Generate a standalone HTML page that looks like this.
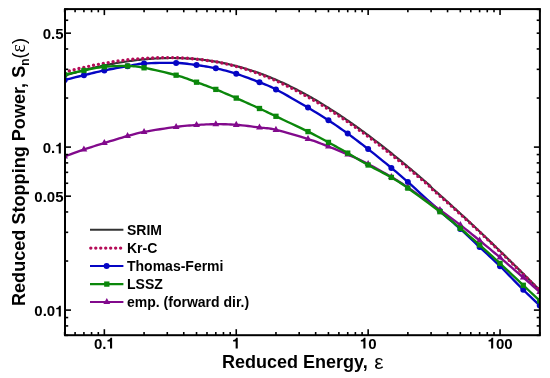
<!DOCTYPE html>
<html><head><meta charset="utf-8"><style>
html,body{margin:0;padding:0;background:#fff;}
svg{display:block;will-change:transform;}
text{font-family:"Liberation Sans",sans-serif;}
</style></head><body>
<svg width="550" height="378" viewBox="0 0 550 378">
<rect width="550" height="378" fill="#fff"/>
<defs><clipPath id="c"><rect x="65.0" y="9.1" width="474.9" height="326.09999999999997"/></clipPath></defs><g clip-path="url(#c)"><path d="M64.64,75.60 L66.23,75.12 L67.82,74.65 L69.41,74.19 L71.00,73.73 L72.59,73.27 L74.18,72.82 L75.77,72.38 L77.36,71.94 L78.95,71.51 L80.53,71.08 L82.12,70.66 L83.71,70.25 L85.30,69.84 L86.89,69.44 L88.48,69.04 L90.07,68.66 L91.66,68.27 L93.25,67.89 L94.84,67.52 L96.42,67.16 L98.01,66.80 L99.60,66.45 L101.19,66.10 L102.78,65.77 L104.37,65.43 L105.96,65.11 L107.55,64.79 L109.14,64.47 L110.73,64.17 L112.31,63.87 L113.90,63.58 L115.49,63.29 L117.08,63.01 L118.67,62.74 L120.26,62.48 L121.85,62.22 L123.44,61.97 L125.03,61.72 L126.62,61.49 L128.20,61.26 L129.79,61.03 L131.38,60.82 L132.97,60.61 L134.56,60.41 L136.15,60.22 L137.74,60.03 L139.33,59.86 L140.92,59.69 L142.51,59.53 L144.09,59.37 L145.68,59.23 L147.27,59.09 L148.86,58.96 L150.45,58.84 L152.04,58.72 L153.63,58.62 L155.22,58.52 L156.81,58.43 L158.40,58.35 L159.98,58.28 L161.57,58.21 L163.16,58.16 L164.75,58.11 L166.34,58.07 L167.93,58.04 L169.52,58.02 L171.11,58.01 L172.70,58.01 L174.29,58.02 L175.87,58.03 L177.46,58.06 L179.05,58.09 L180.64,58.14 L182.23,58.19 L183.82,58.25 L185.41,58.33 L187.00,58.41 L188.59,58.50 L190.18,58.60 L191.76,58.71 L193.35,58.84 L194.94,58.97 L196.53,59.11 L198.12,59.26 L199.71,59.42 L201.30,59.59 L202.89,59.77 L204.48,59.97 L206.07,60.17 L207.65,60.38 L209.24,60.61 L210.83,60.84 L212.42,61.08 L214.01,61.34 L215.60,61.60 L217.19,61.88 L218.78,62.17 L220.37,62.46 L221.96,62.77 L223.54,63.09 L225.13,63.42 L226.72,63.76 L228.31,64.12 L229.90,64.48 L231.49,64.85 L233.08,65.24 L234.67,65.63 L236.26,66.04 L237.85,66.46 L239.43,66.89 L241.02,67.33 L242.61,67.78 L244.20,68.24 L245.79,68.71 L247.38,69.20 L248.97,69.69 L250.56,70.20 L252.15,70.71 L253.74,71.24 L255.32,71.78 L256.91,72.33 L258.50,72.89 L260.09,73.47 L261.68,74.05 L263.27,74.64 L264.86,75.25 L266.45,75.86 L268.04,76.49 L269.63,77.13 L271.21,77.77 L272.80,78.43 L274.39,79.10 L275.98,79.78 L277.57,80.47 L279.16,81.17 L280.75,81.89 L282.34,82.61 L283.93,83.34 L285.52,84.08 L287.10,84.83 L288.69,85.60 L290.28,86.37 L291.87,87.15 L293.46,87.95 L295.05,88.75 L296.64,89.56 L298.23,90.39 L299.82,91.22 L301.41,92.06 L302.99,92.92 L304.58,93.78 L306.17,94.65 L307.76,95.53 L309.35,96.42 L310.94,97.32 L312.53,98.23 L314.12,99.15 L315.71,100.07 L317.30,101.01 L318.88,101.95 L320.47,102.91 L322.06,103.87 L323.65,104.84 L325.24,105.82 L326.83,106.81 L328.42,107.80 L330.01,108.81 L331.60,109.82 L333.19,110.84 L334.77,111.87 L336.36,112.91 L337.95,113.96 L339.54,115.01 L341.13,116.07 L342.72,117.14 L344.31,118.22 L345.90,119.30 L347.49,120.39 L349.08,121.49 L350.66,122.60 L352.25,123.71 L353.84,124.83 L355.43,125.96 L357.02,127.10 L358.61,128.24 L360.20,129.39 L361.79,130.55 L363.38,131.71 L364.97,132.88 L366.55,134.05 L368.14,135.24 L369.73,136.43 L371.32,137.62 L372.91,138.82 L374.50,140.03 L376.09,141.25 L377.68,142.47 L379.27,143.69 L380.86,144.93 L382.44,146.16 L384.03,147.41 L385.62,148.66 L387.21,149.91 L388.80,151.18 L390.39,152.44 L391.98,153.72 L393.57,154.99 L395.16,156.28 L396.75,157.57 L398.33,158.86 L399.92,160.16 L401.51,161.46 L403.10,162.77 L404.69,164.09 L406.28,165.41 L407.87,166.73 L409.46,168.06 L411.05,169.40 L412.64,170.74 L414.22,172.08 L415.81,173.43 L417.40,174.78 L418.99,176.14 L420.58,177.50 L422.17,178.87 L423.76,180.24 L425.35,181.61 L426.94,182.99 L428.53,184.38 L430.11,185.76 L431.70,187.83 L433.29,189.22 L434.88,190.61 L436.47,192.01 L438.06,193.41 L439.65,194.82 L441.24,196.24 L442.83,197.65 L444.42,199.07 L446.00,200.50 L447.59,201.93 L449.18,203.36 L450.77,204.80 L452.36,206.24 L453.95,207.69 L455.54,209.13 L457.13,210.59 L458.72,212.04 L460.31,213.50 L461.89,214.97 L463.48,216.43 L465.07,217.90 L466.66,219.38 L468.25,220.85 L469.84,222.34 L471.43,223.82 L473.02,225.31 L474.61,226.80 L476.20,228.29 L477.78,229.79 L479.37,231.29 L480.96,232.79 L482.55,234.29 L484.14,235.80 L485.73,237.31 L487.32,238.83 L488.91,240.34 L490.50,241.86 L492.09,243.39 L493.67,244.91 L495.26,246.44 L496.85,247.97 L498.44,249.50 L500.03,251.04 L501.62,252.58 L503.21,254.12 L504.80,255.66 L506.39,257.21 L507.98,258.76 L509.56,260.31 L511.15,261.86 L512.74,263.42 L514.33,264.98 L515.92,266.54 L517.51,268.10 L519.10,269.66 L520.69,271.23 L522.28,272.80 L523.87,274.37 L525.45,275.95 L527.04,277.52 L528.63,279.10 L530.22,280.68 L531.81,282.26 L533.40,283.84 L534.99,285.43 L536.58,287.02 L538.17,288.61 L539.76,290.20" stroke="#333333" stroke-width="2.2" fill="none"/><path d="M64.64,72.21 L66.23,71.78 L67.82,71.35 L69.41,70.93 L71.00,70.52 L72.59,70.11 L74.18,69.71 L75.77,69.32 L77.36,68.93 L78.95,68.54 L80.53,68.17 L82.12,67.79 L83.71,67.43 L85.30,67.07 L86.89,66.71 L88.48,66.37 L90.07,66.02 L91.66,65.69 L93.25,65.36 L94.84,65.04 L96.42,64.72 L98.01,64.41 L99.60,64.11 L101.19,63.81 L102.78,63.52 L104.37,63.23 L105.96,62.96 L107.55,62.68 L109.14,62.42 L110.73,62.16 L112.31,61.91 L113.90,61.67 L115.49,61.43 L117.08,61.20 L118.67,60.97 L120.26,60.76 L121.85,60.55 L123.44,60.35 L125.03,60.15 L126.62,59.96 L128.20,59.78 L129.79,59.61 L131.38,59.44 L132.97,59.28 L134.56,59.13 L136.15,58.98 L137.74,58.85 L139.33,58.72 L140.92,58.60 L142.51,58.48 L144.09,58.38 L145.68,58.28 L147.27,58.19 L148.86,58.11 L150.45,58.03 L152.04,57.97 L153.63,57.91 L155.22,57.86 L156.81,57.82 L158.40,57.77 L159.98,57.72 L161.57,57.68 L163.16,57.65 L164.75,57.63 L166.34,57.61 L167.93,57.61 L169.52,57.61 L171.11,57.63 L172.70,57.65 L174.29,57.68 L175.87,57.72 L177.46,57.77 L179.05,57.83 L180.64,57.90 L182.23,57.97 L183.82,58.06 L185.41,58.16 L187.00,58.26 L188.59,58.38 L190.18,58.50 L191.76,58.64 L193.35,58.79 L194.94,58.94 L196.53,59.11 L198.12,59.27 L199.71,59.45 L201.30,59.64 L202.89,59.84 L204.48,60.05 L206.07,60.26 L207.65,60.49 L209.24,60.73 L210.83,60.98 L212.42,61.24 L214.01,61.51 L215.60,61.80 L217.19,62.09 L218.78,62.39 L220.37,62.70 L221.96,63.03 L223.54,63.36 L225.13,63.71 L226.72,64.07 L228.31,64.44 L229.90,64.81 L231.49,65.20 L233.08,65.60 L234.67,66.02 L236.26,66.44 L237.85,66.88 L239.43,67.33 L241.02,67.80 L242.61,68.27 L244.20,68.76 L245.79,69.26 L247.38,69.76 L248.97,70.28 L250.56,70.81 L252.15,71.36 L253.74,71.91 L255.32,72.47 L256.91,73.05 L258.50,73.63 L260.09,74.23 L261.68,74.83 L263.27,75.45 L264.86,76.08 L266.45,76.72 L268.04,77.37 L269.63,78.03 L271.21,78.70 L272.80,79.39 L274.39,80.08 L275.98,80.78 L277.57,81.50 L279.16,82.22 L280.75,82.96 L282.34,83.71 L283.93,84.46 L285.52,85.23 L287.10,86.01 L288.69,86.79 L290.28,87.59 L291.87,88.40 L293.46,89.22 L295.05,90.04 L296.64,90.88 L298.23,91.73 L299.82,92.58 L301.41,93.45 L302.99,94.32 L304.58,95.18 L306.17,96.05 L307.76,96.93 L309.35,97.82 L310.94,98.72 L312.53,99.63 L314.12,100.55 L315.71,101.47 L317.30,102.41 L318.88,103.35 L320.47,104.31 L322.06,105.27 L323.65,106.24 L325.24,107.22 L326.83,108.21 L328.42,109.20 L330.01,110.21 L331.60,111.22 L333.19,112.24 L334.77,113.27 L336.36,114.31 L337.95,115.36 L339.54,116.41 L341.13,117.47 L342.72,118.54 L344.31,119.62 L345.90,120.70 L347.49,121.79 L349.08,122.89 L350.66,124.00 L352.25,125.11 L353.84,126.23 L355.43,127.36 L357.02,128.50 L358.61,129.64 L360.20,130.79 L361.79,131.95 L363.38,133.11 L364.97,134.28 L366.55,135.45 L368.14,136.64 L369.73,137.83 L371.32,139.02 L372.91,140.22 L374.50,141.43 L376.09,142.65 L377.68,143.87 L379.27,145.09 L380.86,146.33 L382.44,147.56 L384.03,148.81 L385.62,150.06 L387.21,151.31 L388.80,152.58 L390.39,153.84 L391.98,155.12 L393.57,156.39 L395.16,157.68 L396.75,158.97 L398.33,160.26 L399.92,161.56 L401.51,162.86 L403.10,164.15 L404.69,165.44 L406.28,166.74 L407.87,168.05 L409.46,169.36 L411.05,170.67 L412.64,171.99 L414.22,173.31 L415.81,174.64 L417.40,175.97 L418.99,177.31 L420.58,178.65 L422.17,180.00 L423.76,181.35 L425.35,182.71 L426.94,184.07 L428.53,185.43 L430.11,186.80 L431.70,188.84 L433.29,190.21 L434.88,191.58 L436.47,192.96 L438.06,194.35 L439.65,195.74 L441.24,197.13 L442.83,198.53 L444.42,199.94 L446.00,201.35 L447.59,202.76 L449.18,204.18 L450.77,205.60 L452.36,207.02 L453.95,208.45 L455.54,209.88 L457.13,211.32 L458.72,212.76 L460.31,214.21 L461.89,215.65 L463.48,217.10 L465.07,218.56 L466.66,220.02 L468.25,221.48 L469.84,222.94 L471.43,224.41 L473.02,225.88 L474.61,227.35 L476.20,228.83 L477.78,230.31 L479.37,231.79 L480.96,233.29 L482.55,234.80 L484.14,236.31 L485.73,237.83 L487.32,239.35 L488.91,240.87 L490.50,242.39 L492.09,243.92 L493.67,245.45 L495.26,246.98 L496.85,248.51 L498.44,250.05 L500.03,251.59 L501.62,253.13 L503.21,254.68 L504.80,256.23 L506.39,257.78 L507.98,259.33 L509.56,260.88 L511.15,262.44 L512.74,264.00 L514.33,265.56 L515.92,267.13 L517.51,268.69 L519.10,270.26 L520.69,271.83 L522.28,273.40 L523.87,274.97 L525.45,276.55 L527.04,278.12 L528.63,279.70 L530.22,281.28 L531.81,282.86 L533.40,284.44 L534.99,286.03 L536.58,287.62 L538.17,289.21 L539.76,290.80" stroke="#b50c58" stroke-width="3.4" fill="none" stroke-dasharray="0 4.972" stroke-dashoffset="0.13" stroke-linecap="round"/><path d="M64.64,80.00 L66.12,79.63 L68.08,79.14 L70.41,78.55 L73.00,77.90 L75.76,77.21 L78.57,76.51 L81.32,75.83 L83.92,75.20 L86.40,74.60 L88.88,73.99 L91.37,73.37 L93.89,72.76 L96.43,72.16 L99.02,71.56 L101.65,70.97 L104.35,70.40 L107.17,69.84 L110.12,69.27 L113.15,68.72 L116.21,68.17 L119.24,67.64 L122.18,67.13 L124.98,66.65 L127.58,66.20 L129.85,65.78 L131.81,65.37 L133.57,64.99 L135.26,64.62 L137.03,64.29 L139.00,63.99 L141.30,63.73 L144.06,63.50 L147.40,63.31 L151.25,63.14 L155.45,63.00 L159.84,62.89 L164.26,62.83 L168.55,62.80 L172.56,62.83 L176.11,62.90 L179.23,63.03 L182.06,63.23 L184.68,63.48 L187.13,63.76 L189.48,64.08 L191.79,64.41 L194.13,64.76 L196.54,65.10 L199.00,65.44 L201.42,65.78 L203.81,66.13 L206.18,66.49 L208.56,66.89 L210.95,67.31 L213.36,67.78 L215.82,68.30 L218.30,68.86 L220.78,69.44 L223.27,70.06 L225.79,70.72 L228.33,71.42 L230.92,72.16 L233.55,72.95 L236.25,73.80 L239.07,74.73 L242.02,75.75 L245.05,76.83 L248.11,77.95 L251.14,79.08 L254.08,80.20 L256.88,81.28 L259.48,82.30 L261.75,83.18 L263.71,83.91 L265.47,84.58 L267.16,85.24 L268.93,85.99 L270.90,86.88 L273.20,87.99 L275.96,89.40 L279.30,91.18 L283.15,93.30 L287.35,95.65 L291.74,98.15 L296.16,100.69 L300.45,103.18 L304.46,105.51 L308.01,107.60 L311.13,109.45 L313.96,111.15 L316.58,112.74 L319.03,114.26 L321.38,115.74 L323.69,117.21 L326.03,118.72 L328.44,120.30 L330.90,121.92 L333.32,123.53 L335.71,125.15 L338.08,126.78 L340.46,128.43 L342.85,130.11 L345.26,131.83 L347.72,133.60 L350.20,135.41 L352.68,137.24 L355.17,139.11 L357.69,141.01 L360.23,142.95 L362.82,144.94 L365.45,146.99 L368.15,149.10 L370.97,151.32 L373.92,153.68 L376.95,156.11 L380.01,158.59 L383.04,161.05 L385.98,163.45 L388.78,165.75 L391.38,167.90 L393.65,169.79 L395.61,171.41 L397.37,172.88 L399.06,174.31 L400.83,175.83 L402.80,177.54 L405.10,179.56 L407.86,182.00 L411.20,184.99 L415.05,188.46 L419.25,192.27 L423.64,196.26 L428.06,200.28 L432.35,204.17 L436.36,207.80 L439.91,211.00 L443.03,213.78 L445.86,216.27 L448.48,218.55 L450.93,220.68 L453.28,222.73 L455.59,224.75 L457.93,226.82 L460.34,229.00 L462.80,231.25 L465.22,233.49 L467.61,235.74 L469.98,237.98 L472.36,240.23 L474.75,242.50 L477.16,244.79 L479.62,247.10 L482.10,249.41 L484.58,251.70 L487.07,253.99 L489.59,256.31 L492.13,258.66 L494.72,261.09 L497.35,263.59 L500.05,266.20 L502.87,268.99 L505.82,271.97 L508.85,275.07 L511.91,278.21 L514.94,281.33 L517.88,284.35 L520.68,287.20 L523.28,289.80 L525.77,292.25 L528.26,294.65 L530.67,296.96 L532.97,299.12 L535.08,301.11 L536.95,302.86 L538.53,304.34 L539.76,305.50" stroke="#0505c4" stroke-width="2.35" fill="none"/><circle cx="64.64" cy="80.00" r="3.0" fill="#0505c4"/><circle cx="83.92" cy="75.20" r="3.0" fill="#0505c4"/><circle cx="104.35" cy="70.40" r="3.0" fill="#0505c4"/><circle cx="127.58" cy="66.20" r="3.0" fill="#0505c4"/><circle cx="144.06" cy="63.50" r="3.0" fill="#0505c4"/><circle cx="176.11" cy="62.90" r="3.0" fill="#0505c4"/><circle cx="196.54" cy="65.10" r="3.0" fill="#0505c4"/><circle cx="215.82" cy="68.30" r="3.0" fill="#0505c4"/><circle cx="236.25" cy="73.80" r="3.0" fill="#0505c4"/><circle cx="259.48" cy="82.30" r="3.0" fill="#0505c4"/><circle cx="275.96" cy="89.40" r="3.0" fill="#0505c4"/><circle cx="308.01" cy="107.60" r="3.0" fill="#0505c4"/><circle cx="328.44" cy="120.30" r="3.0" fill="#0505c4"/><circle cx="347.72" cy="133.60" r="3.0" fill="#0505c4"/><circle cx="368.15" cy="149.10" r="3.0" fill="#0505c4"/><circle cx="391.38" cy="167.90" r="3.0" fill="#0505c4"/><circle cx="407.86" cy="182.00" r="3.0" fill="#0505c4"/><circle cx="439.91" cy="211.00" r="3.0" fill="#0505c4"/><circle cx="460.34" cy="229.00" r="3.0" fill="#0505c4"/><circle cx="479.62" cy="247.10" r="3.0" fill="#0505c4"/><circle cx="500.05" cy="266.20" r="3.0" fill="#0505c4"/><circle cx="523.28" cy="289.80" r="3.0" fill="#0505c4"/><circle cx="539.76" cy="305.50" r="3.0" fill="#0505c4"/><path d="M64.64,156.50 L66.12,155.96 L68.08,155.23 L70.41,154.37 L73.00,153.41 L75.76,152.40 L78.57,151.38 L81.32,150.40 L83.92,149.50 L86.40,148.67 L88.88,147.85 L91.37,147.05 L93.89,146.25 L96.43,145.45 L99.02,144.65 L101.65,143.83 L104.35,143.00 L107.17,142.13 L110.12,141.22 L113.15,140.28 L116.21,139.35 L119.24,138.43 L122.18,137.56 L124.98,136.74 L127.58,136.00 L129.85,135.35 L131.81,134.79 L133.57,134.29 L135.26,133.82 L137.03,133.38 L139.00,132.92 L141.30,132.44 L144.06,131.90 L147.40,131.30 L151.25,130.64 L155.45,129.95 L159.84,129.26 L164.26,128.59 L168.55,127.95 L172.56,127.38 L176.11,126.90 L179.23,126.51 L182.06,126.18 L184.68,125.91 L187.13,125.69 L189.48,125.50 L191.79,125.33 L194.13,125.16 L196.54,125.00 L199.00,124.84 L201.42,124.69 L203.81,124.56 L206.18,124.44 L208.56,124.35 L210.95,124.28 L213.36,124.23 L215.82,124.20 L218.30,124.19 L220.78,124.20 L223.27,124.23 L225.79,124.28 L228.33,124.36 L230.92,124.47 L233.55,124.61 L236.25,124.80 L239.07,125.04 L242.02,125.34 L245.05,125.68 L248.11,126.04 L251.14,126.42 L254.08,126.80 L256.88,127.17 L259.48,127.50 L261.75,127.76 L263.71,127.94 L265.47,128.09 L267.16,128.24 L268.93,128.45 L270.90,128.75 L273.20,129.19 L275.96,129.80 L279.30,130.63 L283.15,131.65 L287.35,132.82 L291.74,134.08 L296.16,135.37 L300.45,136.66 L304.46,137.88 L308.01,139.00 L311.13,140.02 L313.96,140.98 L316.58,141.92 L319.03,142.82 L321.38,143.73 L323.69,144.63 L326.03,145.55 L328.44,146.50 L330.90,147.47 L333.32,148.43 L335.71,149.40 L338.08,150.38 L340.46,151.37 L342.85,152.38 L345.26,153.42 L347.72,154.50 L350.20,155.59 L352.68,156.69 L355.17,157.80 L357.69,158.94 L360.23,160.12 L362.82,161.34 L365.45,162.63 L368.15,164.00 L370.97,165.47 L373.92,167.06 L376.95,168.73 L380.01,170.44 L383.04,172.15 L385.98,173.84 L388.78,175.47 L391.38,177.00 L393.65,178.35 L395.61,179.52 L397.37,180.59 L399.06,181.66 L400.83,182.79 L402.80,184.09 L405.10,185.63 L407.86,187.50 L411.20,189.79 L415.05,192.46 L419.25,195.39 L423.64,198.47 L428.06,201.58 L432.35,204.62 L436.36,207.46 L439.91,210.00 L443.03,212.23 L445.86,214.27 L448.48,216.15 L450.93,217.94 L453.28,219.67 L455.59,221.39 L457.93,223.15 L460.34,225.00 L462.80,226.90 L465.22,228.80 L467.61,230.71 L469.98,232.62 L472.36,234.56 L474.75,236.51 L477.16,238.49 L479.62,240.50 L482.10,242.53 L484.58,244.57 L487.07,246.63 L489.59,248.72 L492.13,250.84 L494.72,253.00 L497.35,255.22 L500.05,257.50 L502.87,259.89 L505.82,262.42 L508.85,265.02 L511.91,267.66 L514.94,270.27 L517.88,272.82 L520.68,275.24 L523.28,277.50 L525.77,279.67 L528.26,281.85 L530.67,283.98 L532.97,286.00 L535.08,287.87 L536.95,289.52 L538.53,290.92 L539.76,292.00" stroke="#820a8c" stroke-width="2.35" fill="none"/><polygon points="61.24,158.60 68.04,158.60 64.64,152.50" fill="#820a8c"/><polygon points="80.52,151.60 87.32,151.60 83.92,145.50" fill="#820a8c"/><polygon points="100.95,145.10 107.75,145.10 104.35,139.00" fill="#820a8c"/><polygon points="124.18,138.10 130.98,138.10 127.58,132.00" fill="#820a8c"/><polygon points="140.66,134.00 147.46,134.00 144.06,127.90" fill="#820a8c"/><polygon points="172.71,129.00 179.51,129.00 176.11,122.90" fill="#820a8c"/><polygon points="193.14,127.10 199.94,127.10 196.54,121.00" fill="#820a8c"/><polygon points="212.42,126.30 219.22,126.30 215.82,120.20" fill="#820a8c"/><polygon points="232.85,126.90 239.65,126.90 236.25,120.80" fill="#820a8c"/><polygon points="256.08,129.60 262.88,129.60 259.48,123.50" fill="#820a8c"/><polygon points="272.56,131.90 279.36,131.90 275.96,125.80" fill="#820a8c"/><polygon points="304.61,141.10 311.41,141.10 308.01,135.00" fill="#820a8c"/><polygon points="325.04,148.60 331.84,148.60 328.44,142.50" fill="#820a8c"/><polygon points="344.32,156.60 351.12,156.60 347.72,150.50" fill="#820a8c"/><polygon points="364.75,166.10 371.55,166.10 368.15,160.00" fill="#820a8c"/><polygon points="387.98,179.10 394.78,179.10 391.38,173.00" fill="#820a8c"/><polygon points="404.46,189.60 411.26,189.60 407.86,183.50" fill="#820a8c"/><polygon points="436.51,212.10 443.31,212.10 439.91,206.00" fill="#820a8c"/><polygon points="456.94,227.10 463.74,227.10 460.34,221.00" fill="#820a8c"/><polygon points="476.22,242.60 483.02,242.60 479.62,236.50" fill="#820a8c"/><polygon points="496.65,259.60 503.45,259.60 500.05,253.50" fill="#820a8c"/><polygon points="519.88,279.60 526.68,279.60 523.28,273.50" fill="#820a8c"/><polygon points="536.36,294.10 543.16,294.10 539.76,288.00" fill="#820a8c"/><path d="M64.64,74.80 L66.12,74.46 L68.08,74.01 L70.41,73.48 L73.00,72.88 L75.76,72.26 L78.57,71.63 L81.32,71.04 L83.92,70.50 L86.40,69.99 L88.88,69.46 L91.37,68.94 L93.89,68.43 L96.43,67.95 L99.02,67.51 L101.65,67.12 L104.35,66.80 L107.17,66.54 L110.12,66.34 L113.15,66.17 L116.21,66.06 L119.24,65.98 L122.18,65.95 L124.98,65.96 L127.58,66.00 L129.85,66.06 L131.81,66.14 L133.57,66.24 L135.26,66.39 L137.03,66.60 L139.00,66.90 L141.30,67.29 L144.06,67.80 L147.40,68.46 L151.25,69.27 L155.45,70.18 L159.84,71.17 L164.26,72.21 L168.55,73.25 L172.56,74.26 L176.11,75.20 L179.23,76.09 L182.06,76.97 L184.68,77.85 L187.13,78.71 L189.48,79.58 L191.79,80.45 L194.13,81.32 L196.54,82.20 L199.00,83.08 L201.42,83.95 L203.81,84.82 L206.18,85.69 L208.56,86.58 L210.95,87.49 L213.36,88.43 L215.82,89.40 L218.30,90.40 L220.78,91.43 L223.27,92.48 L225.79,93.55 L228.33,94.65 L230.92,95.77 L233.55,96.92 L236.25,98.10 L239.07,99.34 L242.02,100.64 L245.05,101.99 L248.11,103.36 L251.14,104.72 L254.08,106.04 L256.88,107.31 L259.48,108.50 L261.75,109.55 L263.71,110.46 L265.47,111.29 L267.16,112.09 L268.93,112.94 L270.90,113.88 L273.20,114.98 L275.96,116.30 L279.30,117.88 L283.15,119.70 L287.35,121.69 L291.74,123.76 L296.16,125.86 L300.45,127.92 L304.46,129.85 L308.01,131.60 L311.13,133.17 L313.96,134.62 L316.58,135.98 L319.03,137.29 L321.38,138.56 L323.69,139.81 L326.03,141.09 L328.44,142.40 L330.90,143.73 L333.32,145.05 L335.71,146.37 L338.08,147.68 L340.46,149.00 L342.85,150.34 L345.26,151.71 L347.72,153.10 L350.20,154.53 L352.68,155.98 L355.17,157.45 L357.69,158.94 L360.23,160.45 L362.82,161.96 L365.45,163.48 L368.15,165.00 L370.97,166.54 L373.92,168.10 L376.95,169.69 L380.01,171.27 L383.04,172.85 L385.98,174.41 L388.78,175.93 L391.38,177.40 L393.65,178.73 L395.61,179.89 L397.37,180.97 L399.06,182.05 L400.83,183.22 L402.80,184.56 L405.10,186.16 L407.86,188.10 L411.20,190.48 L415.05,193.25 L419.25,196.31 L423.64,199.52 L428.06,202.79 L432.35,205.98 L436.36,208.99 L439.91,211.70 L443.03,214.12 L445.86,216.36 L448.48,218.47 L450.93,220.49 L453.28,222.45 L455.59,224.39 L457.93,226.36 L460.34,228.40 L462.80,230.47 L465.22,232.51 L467.61,234.55 L469.98,236.59 L472.36,238.65 L474.75,240.73 L477.16,242.84 L479.62,245.00 L482.10,247.19 L484.58,249.39 L487.07,251.61 L489.59,253.87 L492.13,256.16 L494.72,258.51 L497.35,260.92 L500.05,263.40 L502.87,266.01 L505.82,268.78 L508.85,271.64 L511.91,274.53 L514.94,277.40 L517.88,280.19 L520.68,282.84 L523.28,285.30 L525.77,287.65 L528.26,289.99 L530.67,292.26 L532.97,294.42 L535.08,296.40 L536.95,298.16 L538.53,299.65 L539.76,300.80" stroke="#0b870b" stroke-width="2.35" fill="none"/><rect x="61.99" y="72.15" width="5.3" height="5.3" fill="#0b870b"/><rect x="81.27" y="67.85" width="5.3" height="5.3" fill="#0b870b"/><rect x="101.70" y="64.15" width="5.3" height="5.3" fill="#0b870b"/><rect x="124.93" y="63.35" width="5.3" height="5.3" fill="#0b870b"/><rect x="141.41" y="65.15" width="5.3" height="5.3" fill="#0b870b"/><rect x="173.46" y="72.55" width="5.3" height="5.3" fill="#0b870b"/><rect x="193.89" y="79.55" width="5.3" height="5.3" fill="#0b870b"/><rect x="213.17" y="86.75" width="5.3" height="5.3" fill="#0b870b"/><rect x="233.60" y="95.45" width="5.3" height="5.3" fill="#0b870b"/><rect x="256.83" y="105.85" width="5.3" height="5.3" fill="#0b870b"/><rect x="273.31" y="113.65" width="5.3" height="5.3" fill="#0b870b"/><rect x="305.36" y="128.95" width="5.3" height="5.3" fill="#0b870b"/><rect x="325.79" y="139.75" width="5.3" height="5.3" fill="#0b870b"/><rect x="345.07" y="150.45" width="5.3" height="5.3" fill="#0b870b"/><rect x="365.50" y="162.35" width="5.3" height="5.3" fill="#0b870b"/><rect x="388.73" y="174.75" width="5.3" height="5.3" fill="#0b870b"/><rect x="405.21" y="185.45" width="5.3" height="5.3" fill="#0b870b"/><rect x="437.26" y="209.05" width="5.3" height="5.3" fill="#0b870b"/><rect x="457.69" y="225.75" width="5.3" height="5.3" fill="#0b870b"/><rect x="476.97" y="242.35" width="5.3" height="5.3" fill="#0b870b"/><rect x="497.40" y="260.75" width="5.3" height="5.3" fill="#0b870b"/><rect x="520.63" y="282.65" width="5.3" height="5.3" fill="#0b870b"/><rect x="537.11" y="298.15" width="5.3" height="5.3" fill="#0b870b"/></g><rect x="65.0" y="9.1" width="474.9" height="326.09999999999997" fill="none" stroke="#000" stroke-width="2.0"/><line x1="64.64" y1="335.2" x2="64.64" y2="332.0" stroke="#000" stroke-width="1.6"/><line x1="64.64" y1="9.1" x2="64.64" y2="12.3" stroke="#000" stroke-width="1.6"/><line x1="75.09" y1="335.2" x2="75.09" y2="332.0" stroke="#000" stroke-width="1.6"/><line x1="75.09" y1="9.1" x2="75.09" y2="12.3" stroke="#000" stroke-width="1.6"/><line x1="83.92" y1="335.2" x2="83.92" y2="332.0" stroke="#000" stroke-width="1.6"/><line x1="83.92" y1="9.1" x2="83.92" y2="12.3" stroke="#000" stroke-width="1.6"/><line x1="91.57" y1="335.2" x2="91.57" y2="332.0" stroke="#000" stroke-width="1.6"/><line x1="91.57" y1="9.1" x2="91.57" y2="12.3" stroke="#000" stroke-width="1.6"/><line x1="98.31" y1="335.2" x2="98.31" y2="332.0" stroke="#000" stroke-width="1.6"/><line x1="98.31" y1="9.1" x2="98.31" y2="12.3" stroke="#000" stroke-width="1.6"/><line x1="104.35" y1="335.2" x2="104.35" y2="329.2" stroke="#000" stroke-width="1.6"/><line x1="104.35" y1="9.1" x2="104.35" y2="15.1" stroke="#000" stroke-width="1.6"/><line x1="144.06" y1="335.2" x2="144.06" y2="332.0" stroke="#000" stroke-width="1.6"/><line x1="144.06" y1="9.1" x2="144.06" y2="12.3" stroke="#000" stroke-width="1.6"/><line x1="167.28" y1="335.2" x2="167.28" y2="332.0" stroke="#000" stroke-width="1.6"/><line x1="167.28" y1="9.1" x2="167.28" y2="12.3" stroke="#000" stroke-width="1.6"/><line x1="183.76" y1="335.2" x2="183.76" y2="332.0" stroke="#000" stroke-width="1.6"/><line x1="183.76" y1="9.1" x2="183.76" y2="12.3" stroke="#000" stroke-width="1.6"/><line x1="196.54" y1="335.2" x2="196.54" y2="332.0" stroke="#000" stroke-width="1.6"/><line x1="196.54" y1="9.1" x2="196.54" y2="12.3" stroke="#000" stroke-width="1.6"/><line x1="206.99" y1="335.2" x2="206.99" y2="332.0" stroke="#000" stroke-width="1.6"/><line x1="206.99" y1="9.1" x2="206.99" y2="12.3" stroke="#000" stroke-width="1.6"/><line x1="215.82" y1="335.2" x2="215.82" y2="332.0" stroke="#000" stroke-width="1.6"/><line x1="215.82" y1="9.1" x2="215.82" y2="12.3" stroke="#000" stroke-width="1.6"/><line x1="223.47" y1="335.2" x2="223.47" y2="332.0" stroke="#000" stroke-width="1.6"/><line x1="223.47" y1="9.1" x2="223.47" y2="12.3" stroke="#000" stroke-width="1.6"/><line x1="230.21" y1="335.2" x2="230.21" y2="332.0" stroke="#000" stroke-width="1.6"/><line x1="230.21" y1="9.1" x2="230.21" y2="12.3" stroke="#000" stroke-width="1.6"/><line x1="236.25" y1="335.2" x2="236.25" y2="329.2" stroke="#000" stroke-width="1.6"/><line x1="236.25" y1="9.1" x2="236.25" y2="15.1" stroke="#000" stroke-width="1.6"/><line x1="275.96" y1="335.2" x2="275.96" y2="332.0" stroke="#000" stroke-width="1.6"/><line x1="275.96" y1="9.1" x2="275.96" y2="12.3" stroke="#000" stroke-width="1.6"/><line x1="299.18" y1="335.2" x2="299.18" y2="332.0" stroke="#000" stroke-width="1.6"/><line x1="299.18" y1="9.1" x2="299.18" y2="12.3" stroke="#000" stroke-width="1.6"/><line x1="315.66" y1="335.2" x2="315.66" y2="332.0" stroke="#000" stroke-width="1.6"/><line x1="315.66" y1="9.1" x2="315.66" y2="12.3" stroke="#000" stroke-width="1.6"/><line x1="328.44" y1="335.2" x2="328.44" y2="332.0" stroke="#000" stroke-width="1.6"/><line x1="328.44" y1="9.1" x2="328.44" y2="12.3" stroke="#000" stroke-width="1.6"/><line x1="338.89" y1="335.2" x2="338.89" y2="332.0" stroke="#000" stroke-width="1.6"/><line x1="338.89" y1="9.1" x2="338.89" y2="12.3" stroke="#000" stroke-width="1.6"/><line x1="347.72" y1="335.2" x2="347.72" y2="332.0" stroke="#000" stroke-width="1.6"/><line x1="347.72" y1="9.1" x2="347.72" y2="12.3" stroke="#000" stroke-width="1.6"/><line x1="355.37" y1="335.2" x2="355.37" y2="332.0" stroke="#000" stroke-width="1.6"/><line x1="355.37" y1="9.1" x2="355.37" y2="12.3" stroke="#000" stroke-width="1.6"/><line x1="362.11" y1="335.2" x2="362.11" y2="332.0" stroke="#000" stroke-width="1.6"/><line x1="362.11" y1="9.1" x2="362.11" y2="12.3" stroke="#000" stroke-width="1.6"/><line x1="368.15" y1="335.2" x2="368.15" y2="329.2" stroke="#000" stroke-width="1.6"/><line x1="368.15" y1="9.1" x2="368.15" y2="15.1" stroke="#000" stroke-width="1.6"/><line x1="407.86" y1="335.2" x2="407.86" y2="332.0" stroke="#000" stroke-width="1.6"/><line x1="407.86" y1="9.1" x2="407.86" y2="12.3" stroke="#000" stroke-width="1.6"/><line x1="431.08" y1="335.2" x2="431.08" y2="332.0" stroke="#000" stroke-width="1.6"/><line x1="431.08" y1="9.1" x2="431.08" y2="12.3" stroke="#000" stroke-width="1.6"/><line x1="447.56" y1="335.2" x2="447.56" y2="332.0" stroke="#000" stroke-width="1.6"/><line x1="447.56" y1="9.1" x2="447.56" y2="12.3" stroke="#000" stroke-width="1.6"/><line x1="460.34" y1="335.2" x2="460.34" y2="332.0" stroke="#000" stroke-width="1.6"/><line x1="460.34" y1="9.1" x2="460.34" y2="12.3" stroke="#000" stroke-width="1.6"/><line x1="470.79" y1="335.2" x2="470.79" y2="332.0" stroke="#000" stroke-width="1.6"/><line x1="470.79" y1="9.1" x2="470.79" y2="12.3" stroke="#000" stroke-width="1.6"/><line x1="479.62" y1="335.2" x2="479.62" y2="332.0" stroke="#000" stroke-width="1.6"/><line x1="479.62" y1="9.1" x2="479.62" y2="12.3" stroke="#000" stroke-width="1.6"/><line x1="487.27" y1="335.2" x2="487.27" y2="332.0" stroke="#000" stroke-width="1.6"/><line x1="487.27" y1="9.1" x2="487.27" y2="12.3" stroke="#000" stroke-width="1.6"/><line x1="494.01" y1="335.2" x2="494.01" y2="332.0" stroke="#000" stroke-width="1.6"/><line x1="494.01" y1="9.1" x2="494.01" y2="12.3" stroke="#000" stroke-width="1.6"/><line x1="500.05" y1="335.2" x2="500.05" y2="329.2" stroke="#000" stroke-width="1.6"/><line x1="500.05" y1="9.1" x2="500.05" y2="15.1" stroke="#000" stroke-width="1.6"/><line x1="539.76" y1="335.2" x2="539.76" y2="332.0" stroke="#000" stroke-width="1.6"/><line x1="539.76" y1="9.1" x2="539.76" y2="12.3" stroke="#000" stroke-width="1.6"/><line x1="65.0" y1="335.35" x2="68.2" y2="335.35" stroke="#000" stroke-width="1.6"/><line x1="539.9" y1="335.35" x2="536.6999999999999" y2="335.35" stroke="#000" stroke-width="1.6"/><line x1="65.0" y1="325.90" x2="68.2" y2="325.90" stroke="#000" stroke-width="1.6"/><line x1="539.9" y1="325.90" x2="536.6999999999999" y2="325.90" stroke="#000" stroke-width="1.6"/><line x1="65.0" y1="317.56" x2="68.2" y2="317.56" stroke="#000" stroke-width="1.6"/><line x1="539.9" y1="317.56" x2="536.6999999999999" y2="317.56" stroke="#000" stroke-width="1.6"/><line x1="65.0" y1="310.10" x2="71.0" y2="310.10" stroke="#000" stroke-width="1.6"/><line x1="539.9" y1="310.10" x2="533.9" y2="310.10" stroke="#000" stroke-width="1.6"/><line x1="65.0" y1="261.03" x2="68.2" y2="261.03" stroke="#000" stroke-width="1.6"/><line x1="539.9" y1="261.03" x2="536.6999999999999" y2="261.03" stroke="#000" stroke-width="1.6"/><line x1="65.0" y1="232.33" x2="68.2" y2="232.33" stroke="#000" stroke-width="1.6"/><line x1="539.9" y1="232.33" x2="536.6999999999999" y2="232.33" stroke="#000" stroke-width="1.6"/><line x1="65.0" y1="211.96" x2="68.2" y2="211.96" stroke="#000" stroke-width="1.6"/><line x1="539.9" y1="211.96" x2="536.6999999999999" y2="211.96" stroke="#000" stroke-width="1.6"/><line x1="65.0" y1="196.17" x2="71.0" y2="196.17" stroke="#000" stroke-width="1.6"/><line x1="539.9" y1="196.17" x2="536.6999999999999" y2="196.17" stroke="#000" stroke-width="1.6"/><line x1="65.0" y1="183.26" x2="68.2" y2="183.26" stroke="#000" stroke-width="1.6"/><line x1="539.9" y1="183.26" x2="536.6999999999999" y2="183.26" stroke="#000" stroke-width="1.6"/><line x1="65.0" y1="172.35" x2="68.2" y2="172.35" stroke="#000" stroke-width="1.6"/><line x1="539.9" y1="172.35" x2="536.6999999999999" y2="172.35" stroke="#000" stroke-width="1.6"/><line x1="65.0" y1="162.90" x2="68.2" y2="162.90" stroke="#000" stroke-width="1.6"/><line x1="539.9" y1="162.90" x2="536.6999999999999" y2="162.90" stroke="#000" stroke-width="1.6"/><line x1="65.0" y1="154.56" x2="68.2" y2="154.56" stroke="#000" stroke-width="1.6"/><line x1="539.9" y1="154.56" x2="536.6999999999999" y2="154.56" stroke="#000" stroke-width="1.6"/><line x1="65.0" y1="147.10" x2="71.0" y2="147.10" stroke="#000" stroke-width="1.6"/><line x1="539.9" y1="147.10" x2="533.9" y2="147.10" stroke="#000" stroke-width="1.6"/><line x1="65.0" y1="98.03" x2="68.2" y2="98.03" stroke="#000" stroke-width="1.6"/><line x1="539.9" y1="98.03" x2="536.6999999999999" y2="98.03" stroke="#000" stroke-width="1.6"/><line x1="65.0" y1="69.33" x2="68.2" y2="69.33" stroke="#000" stroke-width="1.6"/><line x1="539.9" y1="69.33" x2="536.6999999999999" y2="69.33" stroke="#000" stroke-width="1.6"/><line x1="65.0" y1="48.96" x2="68.2" y2="48.96" stroke="#000" stroke-width="1.6"/><line x1="539.9" y1="48.96" x2="536.6999999999999" y2="48.96" stroke="#000" stroke-width="1.6"/><line x1="65.0" y1="33.17" x2="71.0" y2="33.17" stroke="#000" stroke-width="1.6"/><line x1="539.9" y1="33.17" x2="536.6999999999999" y2="33.17" stroke="#000" stroke-width="1.6"/><line x1="65.0" y1="20.26" x2="68.2" y2="20.26" stroke="#000" stroke-width="1.6"/><line x1="539.9" y1="20.26" x2="536.6999999999999" y2="20.26" stroke="#000" stroke-width="1.6"/><line x1="65.0" y1="9.35" x2="68.2" y2="9.35" stroke="#000" stroke-width="1.6"/><line x1="539.9" y1="9.35" x2="536.6999999999999" y2="9.35" stroke="#000" stroke-width="1.6"/><g font-family="Liberation Sans" font-weight="bold" font-size="15" fill="#000"><text x="42.65" y="39.47">0.5</text><text x="42.65" y="153.40">0.</text><text x="34.31" y="202.47">0.05</text><text x="34.31" y="316.40">0.0</text><text x="93.92" y="348.50">0.</text><text x="368.15" y="348.50">0</text><text x="495.88" y="348.50">00</text><path transform="translate(55.16,153.40) scale(0.015,-0.015)" d="M238,0 L378,0 L378,710 L272,710 C255,640 190,578 69,568 L69,472 L238,472 Z"/><path transform="translate(55.16,316.40) scale(0.015,-0.015)" d="M238,0 L378,0 L378,710 L272,710 C255,640 190,578 69,568 L69,472 L238,472 Z"/><path transform="translate(106.44,348.50) scale(0.015,-0.015)" d="M238,0 L378,0 L378,710 L272,710 C255,640 190,578 69,568 L69,472 L238,472 Z"/><path transform="translate(232.08,348.50) scale(0.015,-0.015)" d="M238,0 L378,0 L378,710 L272,710 C255,640 190,578 69,568 L69,472 L238,472 Z"/><path transform="translate(359.81,348.50) scale(0.015,-0.015)" d="M238,0 L378,0 L378,710 L272,710 C255,640 190,578 69,568 L69,472 L238,472 Z"/><path transform="translate(487.54,348.50) scale(0.015,-0.015)" d="M238,0 L378,0 L378,710 L272,710 C255,640 190,578 69,568 L69,472 L238,472 Z"/></g><text x="222.0" y="368" font-family="Liberation Sans" font-weight="bold" font-size="18">Reduced Energy,</text><text transform="translate(374.2,369.3) scale(1.05,1.0)" font-family="Liberation Serif" font-size="20">ε</text><text transform="translate(24.6,172.0) rotate(-90)" text-anchor="middle" font-family="Liberation Sans" font-weight="bold" font-size="18.1">Reduced Stopping Power, S<tspan font-size="12" dy="4">n</tspan><tspan dy="-4" font-weight="normal">(</tspan><tspan font-family="Liberation Serif" font-weight="normal" font-size="20">ε</tspan><tspan font-weight="normal">)</tspan></text><g font-family="Liberation Sans" font-weight="bold" font-size="14"><line x1="90.0" y1="229.8" x2="123.4" y2="229.8" stroke="#333333" stroke-width="2.1"/><line x1="90.8" y1="248.1" x2="123.4" y2="248.1" stroke="#b50c58" stroke-width="3.4" stroke-dasharray="0 4.97" stroke-linecap="round"/><line x1="90.0" y1="266.0" x2="123.4" y2="266.0" stroke="#0505c4" stroke-width="2.2"/><circle cx="106.60" cy="266.00" r="3.0" fill="#0505c4"/><line x1="90.0" y1="284.1" x2="123.4" y2="284.1" stroke="#0b870b" stroke-width="2.2"/><rect x="104.15" y="281.45" width="5.3" height="5.3" fill="#0b870b"/><line x1="90.0" y1="302.0" x2="123.4" y2="302.0" stroke="#820a8c" stroke-width="2.2"/><polygon points="103.40,304.10 110.20,304.10 106.80,298.00" fill="#820a8c"/><text x="127.0" y="235.10">SRIM</text><text x="127.0" y="252.90">Kr-C</text><text x="127.0" y="270.80">Thomas-Fermi</text><text x="127.0" y="288.90">LSSZ</text><text x="127.0" y="306.80">emp. (forward dir.)</text></g>
</svg></body></html>
